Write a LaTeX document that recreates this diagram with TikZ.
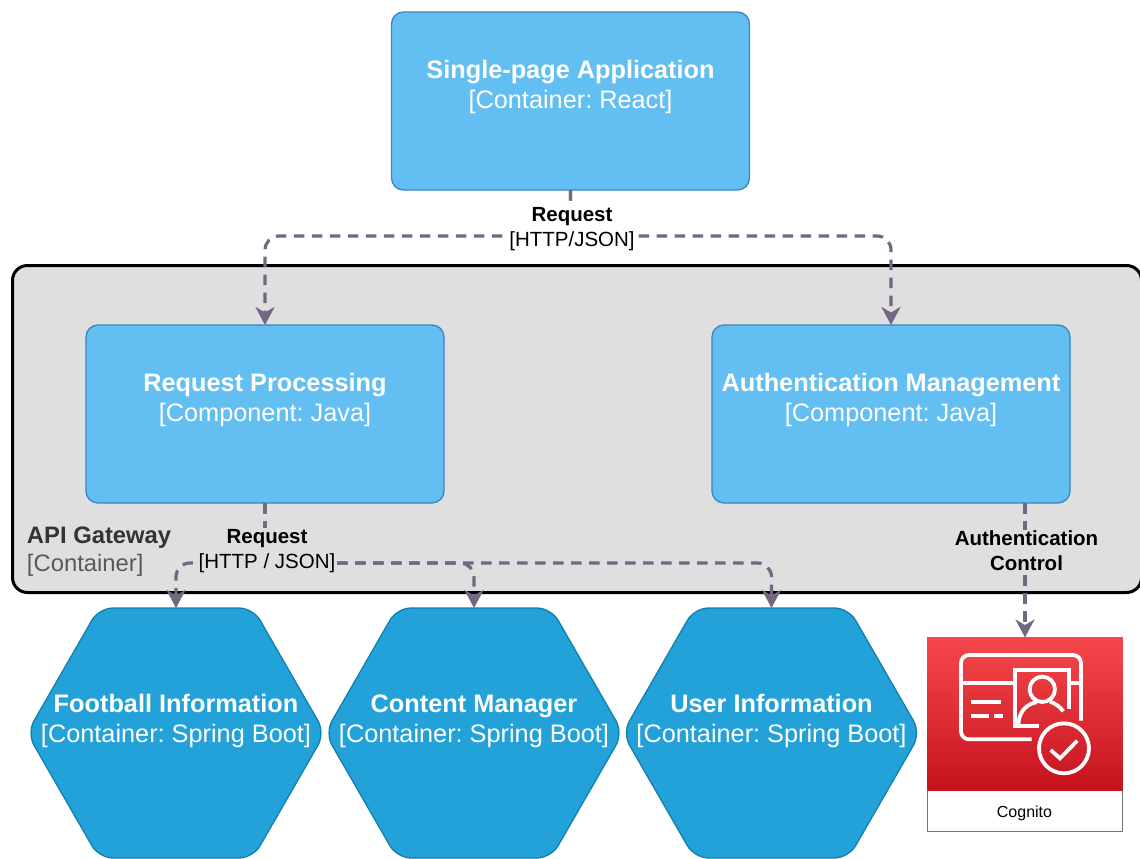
\documentclass[tikz,border=0pt]{standalone}
\usepackage{fontspec}
\setmainfont{Liberation Sans}
\usetikzlibrary{arrows.meta,calc}
\definecolor{boxfill}{HTML}{63BEF2}
\definecolor{boxline}{HTML}{3C84C4}
\definecolor{hexfill}{HTML}{23A2D9}
\definecolor{hexline}{HTML}{0F7FB0}
\definecolor{gatefill}{HTML}{DFDFDF}
\definecolor{conn}{HTML}{736782}
\definecolor{redtop}{HTML}{F6484C}
\definecolor{redbot}{HTML}{C5131E}
\tikzset{
  x=1pt,y=-1pt,
  every node/.style={outer sep=0pt},
  boxtext/.style={text=white,align=center,font=\fontsize{25.3}{30}\selectfont},
  appbox/.style={boxtext,draw=boxline,fill=boxfill,line width=1.3pt,rounded corners=12pt,
    minimum width=358pt,minimum height=178pt,inner sep=0pt},
  hexnode/.style={boxtext,minimum width=298pt,minimum height=250pt,inner sep=0pt},
  hexshape/.style={draw=hexline,fill=hexfill,line width=1.3pt,rounded corners=14pt},
  rel/.style={draw=conn,line width=3.2pt,rounded corners=14pt,dash pattern=on 10.5pt off 7.5pt,
    -{Stealth[length=18pt,width=19pt,inset=5.5pt]}},
  rellabel/.style={text=black,align=center,inner sep=1pt,font=\fontsize{20.5}{25}\selectfont},
  icon/.style={draw=white,line width=3.8pt},
}
\newcommand{\boxlabel}[2]{\textbf{#1}\\{}#2}
\newcommand{\hexdraw}[1]{%
  \path[hexshape] (#1.west) -- ($(#1.north west)+(72,0)$) -- ($(#1.north east)+(-72,0)$)
    -- (#1.east) -- ($(#1.south east)+(-72,0)$) -- ($(#1.south west)+(72,0)$) -- cycle;}
\begin{document}
\frenchspacing
\begin{tikzpicture}
\useasboundingbox (0,0) rectangle (1140,859);
\clip (0,0) rectangle (1140,859);
% gateway boundary
\node[draw=black,fill=gatefill,line width=3pt,rounded corners=15pt,minimum width=1129pt,minimum height=327pt,inner sep=0pt,anchor=north west] (gate) at (12.5,265.5) {};
\node[anchor=north west,inner sep=0pt,align=left,font=\fontsize{23.8}{28}\selectfont,text=black!65] (gatelabel) at (27,527) {\textcolor{black!80}{\textbf{API Gateway}}\\{}[Container]};
% boxes
\node[appbox,anchor=north] (spa) at (570.5,12) {};
\node[boxtext,anchor=north] (spat) at (570.5,57) {\boxlabel{Single-page Application}{[Container: React]}};
\node[appbox,anchor=north] (rp) at (265,325) {};
\node[boxtext,anchor=north] (rpt) at (265,370) {\boxlabel{Request Processing}{[Component: Java]}};
\node[appbox,anchor=north] (am) at (891,325) {};
\node[boxtext,anchor=north] (amt) at (891,370) {\boxlabel{Authentication Management}{[Component: Java]}};
% hexagons
\node[hexnode] (fb) at (176,733) {};
\node[hexnode] (cm) at (474,733) {};
\node[hexnode] (ui) at (771.5,733) {};
\hexdraw{fb}\hexdraw{cm}\hexdraw{ui}
\node[boxtext,anchor=north] (fbt) at (176,691) {\boxlabel{Football Information}{[Container: Spring Boot]}};
\node[boxtext,anchor=north] (cmt) at (474,691) {\boxlabel{Content Manager}{[Container: Spring Boot]}};
\node[boxtext,anchor=north] (uit) at (771.5,691) {\boxlabel{User Information}{[Container: Spring Boot]}};
% cognito
\node[draw=black!55,fill=white,line width=1pt,minimum width=195pt,minimum height=194pt,inner sep=0pt,anchor=north west] (cog) at (927.5,637.5) {};
\shade[top color=redtop,bottom color=redbot] (cog.north west) rectangle ($(cog.north east)+(0,153)$);
\node[inner sep=0pt,font=\fontsize{16}{20}\selectfont] (cogt) at (1024.5,813) {Cognito};
\begin{scope}[shift={(900,500)},x=0.3333pt,y=-0.3333pt]
  \draw[icon,rounded corners=8pt] (395,718) -- (183,718) -- (183,465) -- (543,465) -- (543,662);
  \draw[icon] (183,550) -- (345,550);
  \draw[icon] (510,550) -- (543,550);
  \draw[icon,line join=miter] (417,678) -- (345,678) -- (345,510) -- (507,510) -- (507,627);
  \draw[icon] (427,568) circle (38);
  \draw[icon] (355,672) .. controls (358,630) and (385,610) .. (410,607);
  \draw[icon] (450,605) .. controls (465,610) and (480,620) .. (490,634);
  \draw[icon] (212,605) -- (302,605);
  \draw[icon] (212,648) -- (268,648);
  \draw[icon] (282,648) -- (310,648);
  \draw[icon] (492,745) circle (75);
  \draw[icon,line join=miter] (452,750) -- (480,775) -- (532,722);
\end{scope}
% connectors
\coordinate (topbus) at (570.5,236);
\coordinate (lowbus) at (265,563);
\draw[rel] (spa.south) -- (topbus) -- (topbus -| rp.north) -- (rp.north);
\draw[rel] (spa.south) -- (topbus) -- (topbus -| am.north) -- (am.north);
\draw[rel] (rp.south) -- (lowbus) -- (lowbus -| fb.north) -- (fb.north);
\draw[rel] (rp.south) -- (lowbus) -- (lowbus -| cm.north) -- (cm.north);
\draw[rel] (rp.south) -- (lowbus) -- (lowbus -| ui.north) -- (ui.north);
\draw[rel] (am.south -| cog.north) -- (cog.north);
% connector labels
\node[rellabel,fill=white] (l1) at (572,229) {\textbf{Request}\\{}[HTTP/JSON]};
\node[rellabel,fill=gatefill] (l2) at (267,551) {\textbf{Request}\\{}[HTTP / JSON]};
\node[rellabel,fill=gatefill] (l3) at (1026.5,551) {\textbf{Authentication}\\\textbf{Control}};
\end{tikzpicture}
\end{document}
